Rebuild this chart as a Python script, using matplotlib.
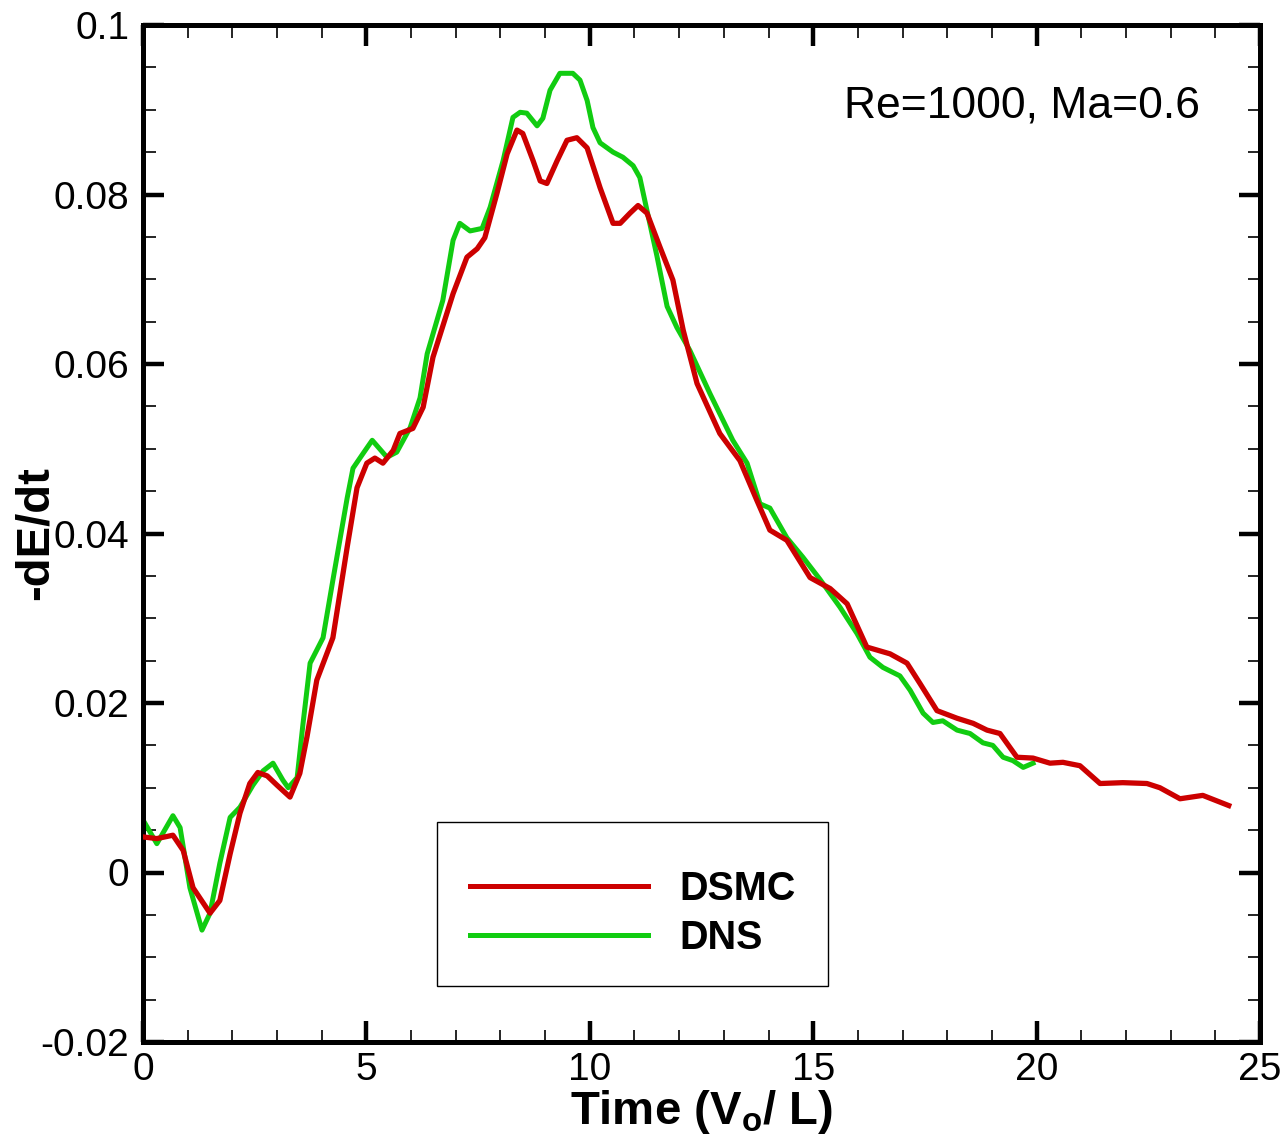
"""
Decay of kinetic energy: -dE/dt versus time, DSMC vs DNS (Re=1000, Ma=0.6).
"""

import matplotlib
matplotlib.use('Agg')
import matplotlib.pyplot as plt
from matplotlib.patches import Rectangle
from matplotlib.ticker import MultipleLocator, FuncFormatter

# ── Data ─────────────────────────────────────────────────────────────────────
dsmc_t = [0.0, 0.31, 0.67, 0.9, 1.12, 1.5, 1.72, 1.95, 2.17, 2.39, 2.57, 2.78,
          3.0, 3.29, 3.51, 3.67, 3.89, 4.25, 4.57, 4.79, 5.01, 5.19, 5.37,
          5.6, 5.75, 6.04, 6.27, 6.49, 6.94, 7.25, 7.48, 7.65, 7.92, 8.15,
          8.37, 8.5, 8.73, 8.89, 9.04, 9.27, 9.49, 9.71, 9.94, 10.23, 10.52,
          10.68, 10.9, 11.08, 11.28, 11.57, 11.86, 12.09, 12.4, 12.91, 13.36,
          13.74, 14.03, 14.41, 14.93, 15.38, 15.76, 16.2, 16.72, 17.1, 17.39,
          17.77, 18.22, 18.58, 18.89, 19.18, 19.56, 19.92, 20.3, 20.59, 20.97,
          21.42, 21.93, 22.47, 22.76, 23.21, 23.72, 24.3]
dsmc_v = [0.0042, 0.0040, 0.0044, 0.0026, -0.0018, -0.0048, -0.0033, 0.0022,
          0.0070, 0.0105, 0.0118, 0.0114, 0.0103, 0.0089, 0.0117, 0.0160,
          0.0227, 0.0277, 0.0384, 0.0454, 0.0483, 0.0489, 0.0483, 0.0498,
          0.0518, 0.0524, 0.0549, 0.0608, 0.0683, 0.0726, 0.0736, 0.0749,
          0.0801, 0.0848, 0.0876, 0.0872, 0.0840, 0.0816, 0.0813, 0.0840,
          0.0864, 0.0867, 0.0855, 0.0808, 0.0766, 0.0766, 0.0778, 0.0787,
          0.0778, 0.0738, 0.0699, 0.0640, 0.0577, 0.0518, 0.0486, 0.0439,
          0.0404, 0.0392, 0.0348, 0.0335, 0.0317, 0.0266, 0.0258, 0.0247,
          0.0223, 0.0191, 0.0182, 0.0176, 0.0168, 0.0164, 0.0136, 0.0135,
          0.0129, 0.0130, 0.0126, 0.0105, 0.0106, 0.0105, 0.0100, 0.0087,
          0.0091, 0.0079]

dns_t = [0.0, 0.31, 0.67, 0.83, 1.05, 1.32, 1.5, 1.72, 1.95, 2.17, 2.46, 2.69,
         2.91, 3.13, 3.25, 3.45, 3.58, 3.74, 4.03, 4.25, 4.57, 4.7, 4.92,
         5.13, 5.46, 5.68, 5.98, 6.2, 6.36, 6.71, 6.94, 7.09, 7.32, 7.59,
         7.77, 8.06, 8.28, 8.44, 8.59, 8.82, 8.95, 9.11, 9.33, 9.62, 9.78,
         9.94, 10.07, 10.23, 10.52, 10.74, 10.97, 11.12, 11.28, 11.5, 11.73,
         11.95, 12.24, 12.69, 13.2, 13.52, 13.81, 14.03, 14.41, 14.77, 15.15,
         15.6, 15.98, 16.27, 16.56, 16.94, 17.17, 17.46, 17.68, 17.9, 18.22,
         18.51, 18.8, 19.02, 19.25, 19.47, 19.7, 19.92]
dns_v = [0.0062, 0.0034, 0.0067, 0.0053, -0.0018, -0.0068, -0.0048, 0.0011,
         0.0065, 0.0077, 0.0103, 0.0120, 0.0129, 0.0109, 0.0100, 0.0112,
         0.0175, 0.0247, 0.0277, 0.0345, 0.0442, 0.0477, 0.0494, 0.0510,
         0.0490, 0.0496, 0.0525, 0.0560, 0.0612, 0.0675, 0.0746, 0.0766,
         0.0757, 0.0760, 0.0785, 0.0840, 0.0891, 0.0897, 0.0896, 0.0881,
         0.0890, 0.0923, 0.0943, 0.0943, 0.0935, 0.0911, 0.0879, 0.0861,
         0.0850, 0.0844, 0.0834, 0.0820, 0.0781, 0.0728, 0.0668, 0.0643,
         0.0616, 0.0565, 0.0510, 0.0483, 0.0435, 0.0430, 0.0395, 0.0372,
         0.0346, 0.0313, 0.0282, 0.0254, 0.0242, 0.0232, 0.0215, 0.0188,
         0.0177, 0.0179, 0.0168, 0.0164, 0.0153, 0.0150, 0.0136, 0.0132,
         0.0124, 0.0129]

series_labels = ['DSMC', 'DNS']
annotation = 'Re=1000, Ma=0.6'

# ── Style ────────────────────────────────────────────────────────────────────
plt.rcParams['font.family'] = ['Liberation Sans', 'DejaVu Sans']
plt.rcParams['axes.unicode_minus'] = False

RED = '#cc0000'
GREEN = '#11cc11'

fig = plt.figure(figsize=(12.83, 11.44), dpi=100)
ax = fig.add_axes([143 / 1283, 1 - 1042 / 1144, 1117 / 1283, 1017 / 1144])

ax.plot(dsmc_t, dsmc_v, color=RED, lw=3.8, label=series_labels[0], zorder=3)
ax.plot(dns_t, dns_v, color=GREEN, lw=3.6, label=series_labels[1], zorder=2)

ax.set_xlim(0, 25)
ax.set_ylim(-0.02, 0.1)

# ── Ticks: Tecplot-like, inward on all four sides ───────────────────────────
ax.xaxis.set_major_locator(MultipleLocator(5))
ax.xaxis.set_minor_locator(MultipleLocator(1))
ax.yaxis.set_major_locator(MultipleLocator(0.02))
ax.yaxis.set_minor_locator(MultipleLocator(0.005))
ax.yaxis.set_major_formatter(FuncFormatter(lambda v, _: f'{v:g}' if abs(v) > 1e-9 else '0'))

ax.tick_params(which='both', direction='in', top=True, right=True)
ax.tick_params(which='major', length=15, width=3.2, labelsize=28)
ax.tick_params(which='minor', length=9, width=1.2)
ax.tick_params(axis='x', which='major', pad=7)
ax.tick_params(axis='y', which='major', pad=10)

for spine in ax.spines.values():
    spine.set_linewidth(3.6)

ax.set_xlabel(r'Time (V$_\mathregular{o}$/ L)', fontsize=34, fontweight='bold', labelpad=0)
ax.set_ylabel('-dE/dt', fontsize=34, fontweight='bold')
ax.yaxis.set_label_coords(-0.076, 0.5)

ax.text(0.946, 0.92, annotation, transform=ax.transAxes, fontsize=32,
        ha='right', va='center')

# legend: frame drawn separately so the box matches the reference exactly
ax.add_patch(Rectangle((0.2632, 0.0551), 0.35, 0.1613, transform=ax.transAxes,
                       facecolor='white', edgecolor='black', lw=1.0, zorder=4))
leg = ax.legend(loc='upper left', bbox_to_anchor=(0.2928, 0.1691),
                frameon=False, prop={'size': 28.5, 'weight': 'bold'},
                handlelength=4.5, handletextpad=0.8, labelspacing=0.28,
                borderpad=0, borderaxespad=0)
leg.set_zorder(5)
for line in leg.get_lines():
    line.set_linewidth(3.6)

fig.savefig('out.png', dpi=100)
plt.close(fig)
